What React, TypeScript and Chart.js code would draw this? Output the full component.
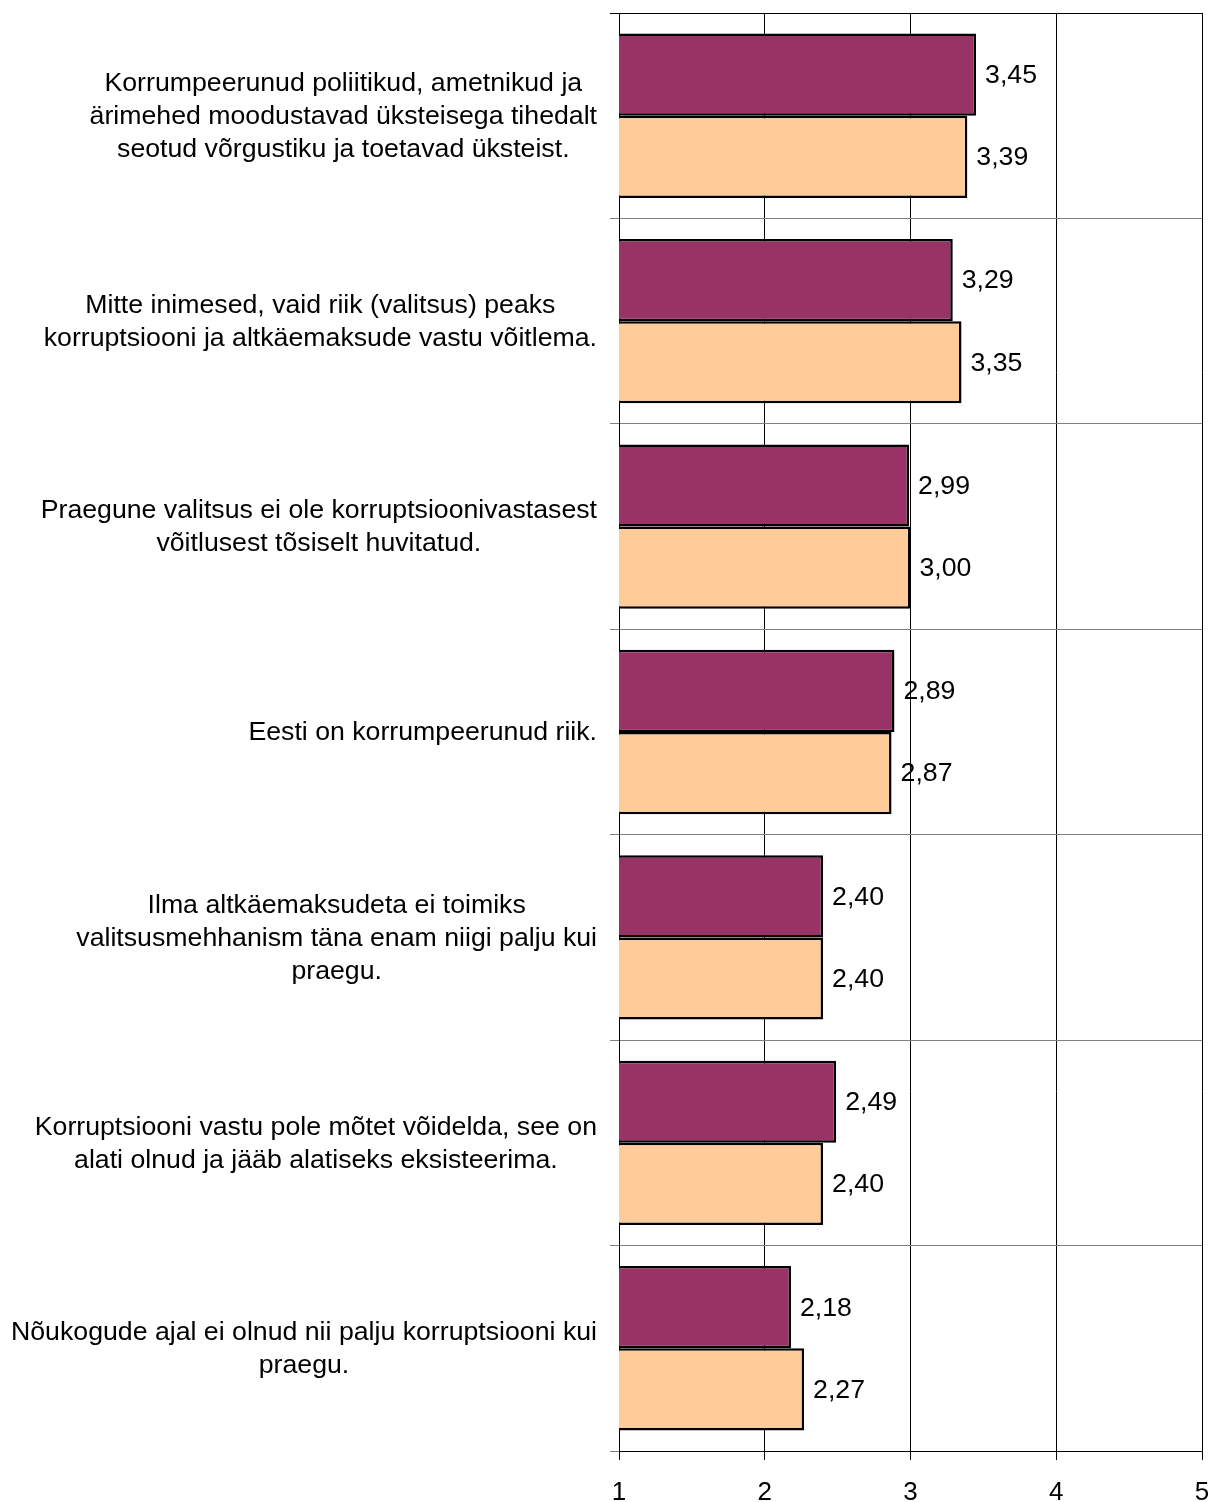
import React, { useEffect, useRef } from "react";
import { Chart, registerables } from "chart.js";

Chart.register(...registerables);

const categories: string[][] = [
  ["Korrumpeerunud poliitikud, ametnikud ja", "ärimehed moodustavad üksteisega tihedalt", "seotud võrgustiku ja toetavad üksteist."],
  ["Mitte inimesed, vaid riik (valitsus) peaks", "korruptsiooni ja altkäemaksude vastu võitlema."],
  ["Praegune valitsus ei ole korruptsioonivastasest", "võitlusest tõsiselt huvitatud."],
  ["Eesti on korrumpeerunud riik."],
  ["Ilma altkäemaksudeta ei toimiks", "valitsusmehhanism täna enam niigi palju kui", "praegu."],
  ["Korruptsiooni vastu pole mõtet võidelda, see on", "alati olnud ja jääb alatiseks eksisteerima."],
  ["Nõukogude ajal ei olnud nii palju korruptsiooni kui", "praegu."],
];

const seriesA: number[] = [3.45, 3.29, 2.99, 2.89, 2.4, 2.49, 2.18];
const seriesB: number[] = [3.39, 3.35, 3.0, 2.87, 2.4, 2.4, 2.27];
const xTicks: number[] = [1, 2, 3, 4, 5];

const FONT = "'Liberation Sans', Arial, sans-serif";

const labelPlugin = {
  id: "customLabels",
  afterDraw(chart: any) {
    const ctx = chart.ctx;
    const y = chart.scales.y;
    ctx.save();
    ctx.fillStyle = "#000";
    ctx.font = `26.7px ${FONT}`;
    ctx.textBaseline = "middle";
    ctx.textAlign = "center";
    const rightEdge = chart.chartArea.left - 22;
    const lineH = 33;
    categories.forEach((lines, i) => {
      const cy = y.getPixelForTick(i) + 1;
      const w = Math.max(...lines.map((l) => ctx.measureText(l).width));
      const cx = rightEdge - w / 2;
      lines.forEach((l, j) => {
        ctx.fillText(l, cx, cy + (j - (lines.length - 1) / 2) * lineH);
      });
    });
    ctx.textAlign = "left";
    chart.data.datasets.forEach((ds: any, di: number) => {
      const meta = chart.getDatasetMeta(di);
      meta.data.forEach((el: any, i: number) => {
        const v = ds.data[i] as number;
        ctx.fillText(v.toFixed(2).replace(".", ","), el.x + 9, el.y + 1);
      });
    });
    ctx.restore();
  },
};

export default function App() {
  const ref = useRef<HTMLCanvasElement | null>(null);
  useEffect(() => {
    document.body.style.margin = "0";
    const canvas = ref.current!;
    const chart = new Chart(canvas, {
      type: "bar",
      data: {
        labels: categories.map((c) => c.join(" ")),
        datasets: [
          {
            label: "A",
            data: seriesA,
            backgroundColor: "#993366",
            borderColor: "#000",
            borderWidth: 2.5,
            borderSkipped: false,
            categoryPercentage: 0.8,
            barPercentage: 1.0,
          },
          {
            label: "B",
            data: seriesB,
            backgroundColor: "#FFCC99",
            borderColor: "#000",
            borderWidth: 2.5,
            borderSkipped: false,
            categoryPercentage: 0.8,
            barPercentage: 1.0,
          },
        ],
      },
      options: {
        indexAxis: "y",
        responsive: false,
        animation: false,
        layout: { padding: { left: 0, right: 11, top: 13, bottom: 0 } },
        plugins: {
          legend: { display: false },
          tooltip: { enabled: false },
        },
        scales: {
          x: {
            type: "linear",
            min: xTicks[0],
            max: xTicks[xTicks.length - 1],
            afterBuildTicks: (s: any) => {
              s.ticks = xTicks.map((v) => ({ value: v }));
            },
            ticks: {
              color: "#000",
              font: { family: FONT, size: 26 },
              padding: 17,
              callback: (v: any) => String(v),
            },
            grid: {
              color: "#000",
              lineWidth: 1,
              tickLength: 9,
              drawTicks: true,
            },
            border: { color: "#000", width: 1 },
            afterFit: (s: any) => {
              s.height = 51;
              s.paddingLeft = 0;
              s.paddingRight = 0;
            },
          },
          y: {
            type: "category",
            offset: true,
            ticks: { display: false },
            grid: {
              offset: true,
              color: (c: any) => (c.index === 0 ? "#000" : "#808080"),
              lineWidth: 1,
              tickLength: 9,
            },
            border: { color: "#000", width: 1 },
            afterFit: (s: any) => {
              s.width = 619;
            },
          },
        },
      },
      plugins: [labelPlugin],
    });
    return () => chart.destroy();
  }, []);
  return (
    <div style={{ width: 1213, height: 1502 }}>
      <canvas ref={ref} width={1213} height={1502} style={{ display: "block" }} />
    </div>
  );
}
